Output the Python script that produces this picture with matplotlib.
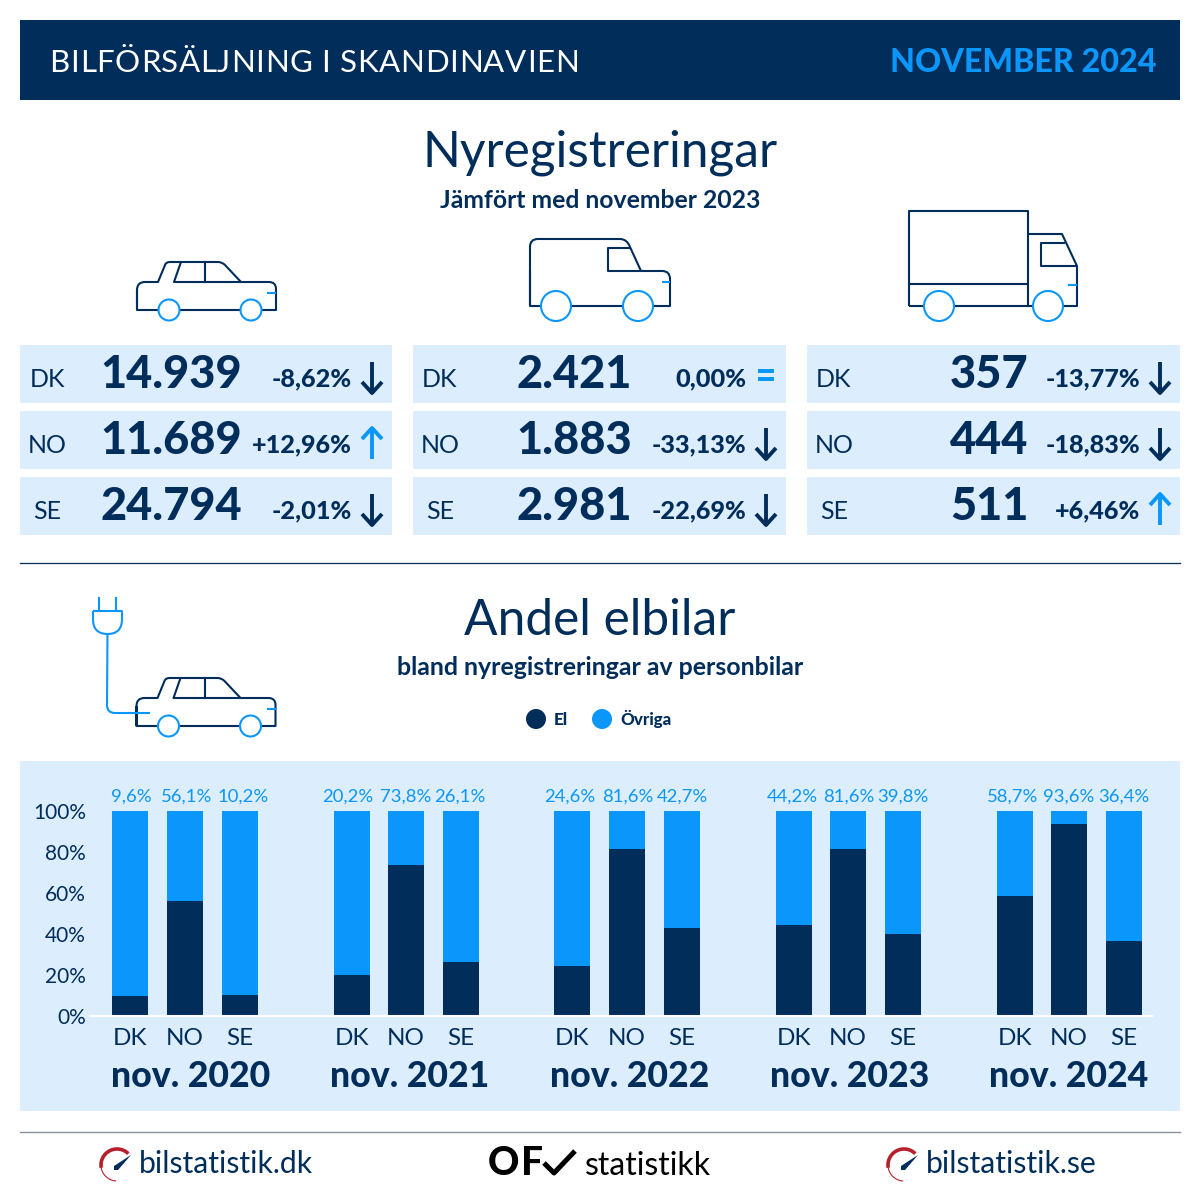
import numpy as np
import matplotlib
matplotlib.use("Agg")
import matplotlib.pyplot as plt
from matplotlib.patches import Rectangle, Circle, Polygon, PathPatch
from matplotlib.path import Path

plt.rcParams['font.family'] = ['Lato', 'DejaVu Sans']

NAVY = '#012d5b'
BLUE = '#0a96fa'
PALE = '#dceefe'

# Data
countries = ['DK', 'NO', 'SE']
car_counts = ['14.939', '11.689', '24.794']
car_changes = ['-8,62%', '+12,96%', '-2,01%']
car_trend = ['down', 'up', 'down']
van_counts = ['2.421', '1.883', '2.981']
van_changes = ['0,00%', '-33,13%', '-22,69%']
van_trend = ['same', 'down', 'down']
truck_counts = ['357', '444', '511']
truck_changes = ['-13,77%', '-18,83%', '+6,46%']
truck_trend = ['down', 'down', 'up']

periods = ['nov. 2020', 'nov. 2021', 'nov. 2022', 'nov. 2023', 'nov. 2024']
el_dk = [9.6, 20.2, 24.6, 44.2, 58.7]
el_no = [56.1, 73.8, 81.6, 81.6, 93.6]
el_se = [10.2, 26.1, 42.7, 39.8, 36.4]

fig = plt.figure(figsize=(12, 12), dpi=100)
# whole figure in pixels, y going down
ax = fig.add_axes([0, 0, 1, 1])
ax.set_xlim(0, 1200)
ax.set_ylim(1200, 0)
ax.axis('off')


def stroke(points, color=NAVY, lw=1.5, z=3):
    # points with a third item are curve control points
    verts, codes = [], []
    for i, p in enumerate(points):
        verts.append(p[:2])
        if i == 0:
            codes.append(Path.MOVETO)
        elif len(p) == 3 or len(points[i - 1]) == 3:
            codes.append(Path.CURVE3)
        else:
            codes.append(Path.LINETO)
    ax.add_patch(PathPatch(Path(verts, codes), fill=False, edgecolor=color, lw=lw,
                           zorder=z, capstyle='butt', joinstyle='round'))


def spaced(x, y, s, gap, **kw):
    # letter spacing: each letter goes where the string up to it ends
    r = fig.canvas.get_renderer()
    for i, ch in enumerate(s):
        if i > 0:
            t = ax.text(0, 0, s[:i] + ch, **kw)
            whole = t.get_window_extent(r).width
            t.set_text(ch)
            adv = whole - t.get_window_extent(r).width
            t.remove()
        else:
            adv = 0
        ax.text(x + adv + i * gap, y, ch, va='baseline', zorder=2, **kw)


def wheel(x, y, r):
    ax.add_patch(Circle((x, y), r, facecolor='white', edgecolor=BLUE, lw=1.5, zorder=4))


def car(dx, dy):
    stroke([(137 + dx, 310 + dy), (137 + dx, 290 + dy), (137 + dx, 282 + dy, 'c'), (145 + dx, 282 + dy),
            (158 + dx, 282 + dy), (165 + dx, 265 + dy), (166 + dx, 262 + dy, 'c'), (170 + dx, 262 + dy),
            (218 + dx, 262 + dy), (222 + dx, 262 + dy, 'c'), (225 + dx, 265 + dy),
            (241 + dx, 282 + dy), (269 + dx, 282 + dy), (276 + dx, 282 + dy, 'c'), (276 + dx, 289 + dy),
            (276 + dx, 310 + dy), (137 + dx, 310 + dy), (137 + dx, 290 + dy)])
    stroke([(181 + dx, 262 + dy), (174 + dx, 282 + dy), (241 + dx, 282 + dy)])
    stroke([(205 + dx, 262 + dy), (205 + dx, 282 + dy)])
    stroke([(267 + dx, 293 + dy), (276 + dx, 293 + dy)], color=BLUE, z=5)
    wheel(169 + dx, 310 + dy, 10.5)
    wheel(251 + dx, 310 + dy, 10.5)


def arrow(x, kind, y0):
    # y0 is the top of the row's arrow
    if kind == 'same':
        ax.add_patch(Rectangle((x - 8, y0 + 7), 16, 3.5, color=BLUE, lw=0, zorder=3))
        ax.add_patch(Rectangle((x - 8, y0 + 15), 16, 3.5, color=BLUE, lw=0, zorder=3))
        return
    col = NAVY if kind == 'down' else BLUE
    top, bot = y0, y0 + 31
    stroke([(x, top), (x, bot)], color=col, lw=2.8)
    if kind == 'down':
        stroke([(x - 10, bot - 11), (x, bot), (x + 10, bot - 11)], color=col, lw=2.8)
    else:
        stroke([(x - 10, top + 11), (x, top), (x + 10, top + 11)], color=col, lw=2.8)


def gauge(dx):
    ang = np.radians(np.linspace(45, 190, 40))
    ax.plot(117 + dx + 16 * np.cos(ang), 1165 - 16 * np.sin(ang), color='#b5202c', lw=2.6, zorder=3,
            solid_capstyle='butt')
    ang = np.radians(np.linspace(190, 265, 20))
    ax.plot(117 + dx + 16 * np.cos(ang), 1165 - 16 * np.sin(ang), color='#b5202c', lw=0.8, zorder=3)
    ax.add_patch(Polygon([(131 + dx, 1155), (118 + dx, 1170), (114 + dx, 1170), (114 + dx, 1166)],
                         color=NAVY, lw=0, zorder=3))


# header
ax.add_patch(Rectangle((20, 20), 1160, 80, color=NAVY, lw=0, zorder=1))
spaced(49.5, 72, 'BILFÖRSÄLJNING I SKANDINAVIEN', 0.65, color='white', fontsize=22.5)
ax.text(1156, 72, 'NOVEMBER 2024', color=BLUE, fontsize=23.2, fontweight='black', ha='right', va='baseline', zorder=2)

ax.text(600, 167, 'Nyregistreringar', color=NAVY, fontsize=35.7, ha='center', va='baseline')
ax.text(600, 208, 'Jämfört med november 2023', color=NAVY, fontsize=17.85, fontweight='bold', ha='center', va='baseline')

# vehicle icons
car(0, 0)
stroke([(530, 306), (530, 247), (530, 239, 'c'), (538, 239), (620, 239), (627, 239, 'c'), (630, 247),
        (641, 271), (662, 271), (670, 271, 'c'), (670, 279), (670, 306), (530, 306), (530, 270)])
stroke([(630, 248), (608, 248), (608, 271), (641, 271)])
stroke([(662, 282), (670, 282)], color=BLUE, z=5)
wheel(556, 306, 15)
wheel(638, 306, 15)

stroke([(909, 306), (909, 211), (1028, 211), (1028, 306)])
stroke([(909, 284), (1028, 284)])
stroke([(1028, 234), (1062, 234), (1077, 266), (1077, 306), (909, 306)])
stroke([(1065, 243), (1041, 243), (1041, 266), (1077, 266)])
stroke([(1068, 285), (1077, 285)], color=BLUE, z=5)
wheel(939, 306, 15)
wheel(1048, 306, 15)

# number panels
panels = [(20, 392, 47, 171, 352, 372, car_counts, car_changes, car_trend),
          (413, 786, 440, 574, 746, 766, van_counts, van_changes, van_trend),
          (807, 1180, 834, 989, 1140, 1160, truck_counts, truck_changes, truck_trend)]
for x0, x1, xc, xn, xp, xa, counts, changes, trends in panels:
    for i in range(3):
        y = 345 + 66 * i
        ax.add_patch(Rectangle((x0, y), x1 - x0, 57.5, color=PALE, lw=0, zorder=1))
        ax.text(xc, y + 42, countries[i], color=NAVY, fontsize=18, ha='center', va='baseline')
        ax.text(xn, y + 42.5, counts[i], color=NAVY, fontsize=32.5, fontweight='black', ha='center', va='baseline')
        ax.text(xp, y + 41.5, changes[i], color=NAVY, fontsize=18.2, fontweight='black', ha='right', va='baseline')
        arrow(xa, trends[i], y + 17)

ax.plot([20, 1180], [562.5, 562.5], color=NAVY, lw=0.9)

# electric car and plug
car(-0.5, 416)
stroke([(99, 597), (99, 611)], color=BLUE)
stroke([(116, 597), (116, 611)], color=BLUE)
stroke([(93, 611), (122, 611), (122, 619), (122, 634, 'c'), (107.5, 634), (93, 634, 'c'), (93, 619), (93, 611)], color=BLUE)
stroke([(107.5, 634), (107, 705), (107, 713, 'c'), (115, 713), (150, 713)], color=BLUE)

ax.text(600, 635, 'Andel elbilar', color=NAVY, fontsize=35.7, ha='center', va='baseline')
ax.text(600, 675, 'bland nyregistreringar av personbilar', color=NAVY, fontsize=17.9, fontweight='bold', ha='center', va='baseline')

# legend
ax.add_patch(Circle((536, 719), 10, color=NAVY, lw=0))
ax.text(554, 725, 'El', color=NAVY, fontsize=12.3, fontweight='black', va='baseline')
ax.add_patch(Circle((602, 719), 10, color=BLUE, lw=0))
ax.text(620, 725, 'Övriga', color=NAVY, fontsize=12.2, fontweight='black', va='baseline')

# chart background
ax.add_patch(Rectangle((20, 761), 1160, 350, color=PALE, lw=0, zorder=1))

# bar chart: x axis runs in figure pixels, y in percent
bar_ax = fig.add_axes([20 / 1200, 1 - 1016 / 1200, 1160 / 1200, 205 / 1200])
bar_ax.patch.set_alpha(0)
bar_ax.set_xlim(20, 1180)
bar_ax.set_ylim(0, 100)
for s in ['top', 'right', 'left', 'bottom']:
    bar_ax.spines[s].set_visible(False)

bar_x = [130, 185, 240, 352, 406, 461, 572, 627, 682, 794, 848, 903, 1015, 1069, 1124]
label_x = [131, 187, 243, 348, 406, 460, 570, 628, 682, 792, 849, 903, 1013, 1069, 1124]
year_x = [191, 410, 630, 850, 1069]
el = [v for trio in zip(el_dk, el_no, el_se) for v in trio]
other = [100 - v for v in el]
bar_ax.bar(bar_x, el, width=36, color=NAVY, zorder=2)
bar_ax.bar(bar_x, other, width=36, bottom=el, color=BLUE, zorder=2)
bar_ax.plot([90, 1152], [0, 0], color='white', lw=1.5, zorder=3, clip_on=False)

bar_ax.set_yticks([0, 20, 40, 60, 80, 100], ['0%', '20%', '40%', '60%', '80%', '100%'])
bar_ax.set_xticks(bar_x, countries * len(periods))
bar_ax.tick_params(axis='y', length=0, pad=-47.5, labelsize=15, labelcolor=NAVY)
bar_ax.tick_params(axis='x', length=0, pad=8.7, labelsize=17.5, labelcolor=NAVY)
for t in bar_ax.get_yticklabels():
    t.set_ha('right')

for x, v in zip(label_x, el):
    lab = f'{v:.1f}%'.replace('.', ',')
    bar_ax.annotate(lab, (x, 100), xytext=(0, 7), textcoords='offset points', ha='center', va='baseline',
                    color=BLUE, fontsize=13.3, annotation_clip=False)
for x, p in zip(year_x, periods):
    ax.text(x, 1087, p, color=NAVY, fontsize=25.7, fontweight='black', ha='center', va='baseline', zorder=2)

# footer
ax.plot([20, 1180], [1132, 1132], color='#8a8f9c', lw=1.0)
gauge(0)
gauge(787)
ax.text(139, 1173, 'bilstatistik.dk', color=NAVY, fontsize=21.7, va='baseline')
ax.text(926, 1173, 'bilstatistik.se', color=NAVY, fontsize=21.7, va='baseline')
spaced(488, 1175, 'OF', 1, color='black', fontsize=28, fontweight='black')
stroke([(544, 1163), (554, 1173), (575, 1151)], color='black', lw=3.6)
ax.text(585, 1175, 'statistikk', color='black', fontsize=23, va='baseline')

fig.savefig('out.png', dpi=100)
